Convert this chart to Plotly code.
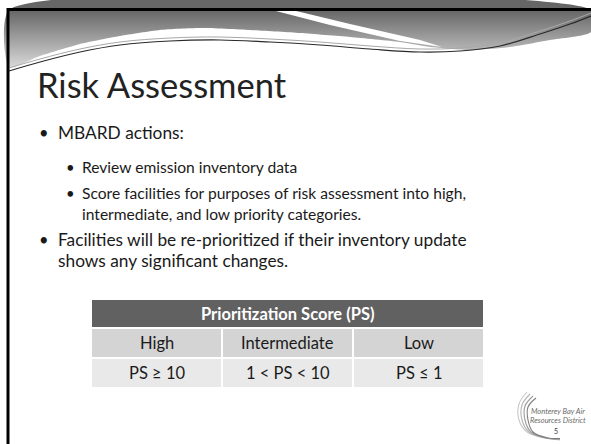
import plotly.graph_objects as go

# ---- slide content (data) ----
title_text = "Risk Assessment"
bullet_lines = [
    # (level, text, continuation)
    (1, "MBARD actions:", False),
    (2, "Review emission inventory data", False),
    (2, "Score facilities for purposes of risk assessment into high,", False),
    (2, "intermediate, and low priority categories.", True),
    (1, "Facilities will be re-prioritized if their inventory update", False),
    (1, "shows any significant changes.", True),
]
line_baselines = [139, 173, 199, 220, 246, 267]

table_title = "Prioritization Score (PS)"
categories = ["High", "Intermediate", "Low"]
thresholds = ["PS \u2265 10", "1 < PS < 10", "PS \u2264 1"]

logo_lines = ["Monterey Bay Air", "Resources District"]
page_number = "5"

# ---- geometry (pixel space) ----
W, H = 591, 444
FONT = "Lato"

fig = go.Figure()

# header gradient band
hx = [9, 591, 591, 550, 510, 470, 430, 400, 350, 300, 250, 200, 160, 120, 80, 40, 9, 9]
hy = [10, 10, 32, 40, 47, 50, 47, 42, 37, 33, 30, 28, 30, 36, 44, 56, 67, 10]
fig.add_trace(go.Scatter(
    x=hx, y=hy, mode="lines", fill="toself", line=dict(width=0, shape="spline", smoothing=0.6),
    fillgradient=dict(type="vertical", colorscale=[[0, "#666666"], [1, "#d8d8d8"]], start=10, stop=67),
    hoverinfo="skip", showlegend=False))

# white streak
sx = [272, 292, 350, 420, 442, 400, 330, 272]
sy = [10, 10, 24, 40, 47, 41, 25, 10]
fig.add_trace(go.Scatter(x=sx, y=sy, mode="lines", fill="toself", fillcolor="white",
                         line=dict(width=0), hoverinfo="skip", showlegend=False))

# lighter lower line and dark line along the wave
lx = [9, 40, 80, 120, 170, 220, 270, 320, 370, 420, 460, 500, 540, 570, 591]
ly_dark = [71, 62, 52, 45, 41, 40, 42, 45, 49, 52, 51, 46, 34, 24, 16]
ly_light = [v - 3 for v in ly_dark]
fig.add_trace(go.Scatter(x=lx, y=ly_light, mode="lines",
                         line=dict(color="#a8a8a8", width=1, shape="spline"),
                         hoverinfo="skip", showlegend=False))
fig.add_trace(go.Scatter(x=lx, y=ly_dark, mode="lines",
                         line=dict(color="#2a2a2a", width=1.2, shape="spline"),
                         hoverinfo="skip", showlegend=False))

# logo swoosh arcs
for i, col in enumerate(["#c8c8c8", "#b4b4b4", "#9c9c9c", "#7e7e7e"]):
    fig.add_trace(go.Scatter(
        x=[527 + 3 * i, 519 + 3 * i, 519 + 3 * i, 527 + 2 * i, 545 + i, 560],
        y=[392 + 2 * i, 404 + i, 420, 432, 438, 440 - i * 0.5],
        mode="lines", line=dict(color=col, width=1.1, shape="spline"),
        hoverinfo="skip", showlegend=False))

shapes = []
# frame lines
shapes.append(dict(type="line", xref="x", yref="y", x0=8, x1=W, y0=9.5, y1=9.5,
                   line=dict(color="black", width=3)))
shapes.append(dict(type="line", xref="x", yref="y", x0=8, x1=8, y0=8, y1=H,
                   line=dict(color="black", width=3)))

annotations = []
annotations.append(dict(x=35, y=84, xref="x", yref="y", text=title_text, showarrow=False,
                        xanchor="left", yanchor="middle",
                        font=dict(family=FONT, size=34.5, color="#222222")))

indent = {1: (44, 56), 2: (70, 80)}
sizes = {1: 17.3, 2: 15.6}
for (lvl, txt, cont), base in zip(bullet_lines, line_baselines):
    bx, tx = indent[lvl]
    s = sizes[lvl]
    cy = base - 0.36 * s
    if not cont:
        annotations.append(dict(x=bx, y=cy, xref="x", yref="y", text="\u2022", showarrow=False,
                                xanchor="center", yanchor="middle",
                                font=dict(family=FONT, size=s * 0.95, color="#1a1a1a")))
    annotations.append(dict(x=tx, y=cy, xref="x", yref="y", text=txt, showarrow=False,
                            xanchor="left", yanchor="middle",
                            font=dict(family=FONT, size=s, color="#1a1a1a")))

# table
t_left, t_right = 91, 484
col_w = (t_right - t_left) / len(categories)
row_tops = [299, 328, 358]
row_bots = [328, 358, 388]
shapes.append(dict(type="rect", xref="x", yref="y", x0=t_left, x1=t_right,
                   y0=row_tops[0], y1=row_bots[0], fillcolor="#616161",
                   line=dict(color="white", width=2), layer="above"))
annotations.append(dict(x=(t_left + t_right) / 2, y=(row_tops[0] + row_bots[0]) / 2,
                        xref="x", yref="y", text="<b>" + table_title + "</b>", showarrow=False,
                        font=dict(family=FONT, size=16.5, color="white")))
row_fills = ["#d4d4d4", "#e9e9e9"]
for r, row_vals in enumerate([categories, thresholds]):
    for j, v in enumerate(row_vals):
        x0 = t_left + j * col_w
        shapes.append(dict(type="rect", xref="x", yref="y", x0=x0, x1=x0 + col_w,
                           y0=row_tops[r + 1], y1=row_bots[r + 1], fillcolor=row_fills[r],
                           line=dict(color="white", width=2), layer="above"))
        annotations.append(dict(x=x0 + col_w / 2, y=(row_tops[r + 1] + row_bots[r + 1]) / 2,
                                xref="x", yref="y", text=v, showarrow=False,
                                font=dict(family=FONT, size=16.5, color="#1a1a1a")))

# logo text
for k, t in enumerate(logo_lines):
    annotations.append(dict(x=558, y=411 + 9 * k, xref="x", yref="y", text="<i>" + t + "</i>",
                            showarrow=False, font=dict(family=FONT, size=7.5, color="#6a6a6a")))
annotations.append(dict(x=556, y=431, xref="x", yref="y", text=page_number, showarrow=False,
                        font=dict(family=FONT, size=7, color="#333333")))

fig.update_layout(
    width=W, height=H, margin=dict(l=0, r=0, t=0, b=0),
    paper_bgcolor="white", plot_bgcolor="white",
    xaxis=dict(range=[0, W], visible=False, fixedrange=True),
    yaxis=dict(range=[H, 0], visible=False, fixedrange=True),
    shapes=shapes, annotations=annotations, showlegend=False,
)

fig.write_html("out.html", config={"displayModeBar": False},
               post_script="document.body.style.margin='0';")
